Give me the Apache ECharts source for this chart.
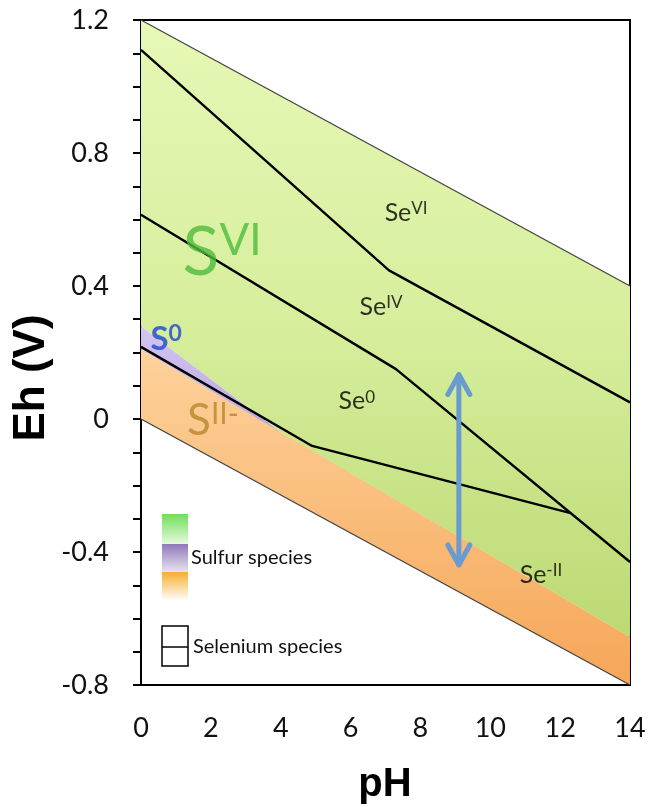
<!DOCTYPE html>
<html><head><meta charset="utf-8">
<script src="https://cdn.jsdelivr.net/npm/echarts@6/dist/echarts.min.js"></script>
<style>html,body{margin:0;padding:0;background:#fff}#c{width:650px;height:807px}</style>
</head><body><div id="c"></div>
<script>
// ---- data ----
const xTickLabels = ['0','2','4','6','8','10','12','14'];
const yTickLabels = ['-0.8','-0.4','0','0.4','0.8','1.2'];
const waterUpper = [[0,1.2],[14,0.4]];
const waterLower = [[0,0],[14,-0.8]];
const sVIRegion  = [[0,1.2],[14,0.4],[14,-0.656],[4,-0.04],[0,0.28]];
const s0Region   = [[0,0.28],[4,-0.04],[0,0.21]];
const sIIRegion  = [[0,0.21],[4,-0.038],[14,-0.656],[14,-0.8],[0,0]];
const seVI_IV = [[0,1.11],[7.1,0.447],[14,0.05]];
const seIV_0  = [[0,0.614],[7.3,0.15],[14,-0.43]];
const se0_II  = [[0,0.217],[4.9,-0.081],[12.3,-0.283]];
const arrowLine = [[9.1,0.14],[9.1,-0.445]];
const speciesNames = ['S|VI','S|0','S|II-','Se|VI','Se|IV','Se|0','Se|-II'];
const speciesAt = [[2.32,0.50],[0.72,0.241],[2.06,-0.006],[7.59,0.62],[6.87,0.337],[6.18,0.054],[11.45,-0.469]];

// ---- chart ----
const chart = echarts.init(document.getElementById('c'));
const G = echarts.graphic.LinearGradient;
function poly(points, fill, z){
  return {type:'custom', silent:true, z:z, clip:true, data:[0],
    renderItem:(p, api)=>({type:'polygon', shape:{points:points.map(q=>api.coord(q))}, style:{fill:fill}})};
}
function seLine(d){
  return {type:'line', data:d, symbol:'none', silent:true, z:5, lineStyle:{color:'#000', width:2.4}};
}
const styles = {
  'S|VI':  {s:{fontSize:68, color:'#4cbb3c', fontFamily:'Lato'}, sup:{fontSize:44, color:'#4cbb3c', fontFamily:'Lato'}},
  'S|0':   {s:{fontSize:33, color:'#1b45d8', fontFamily:'Lato', fontWeight:'bold'}, sup:{fontSize:23, color:'#1b45d8', fontFamily:'Lato', fontWeight:'bold'}},
  'S|II-': {s:{fontSize:44, color:'#b8862c', fontFamily:'Lato'}, sup:{fontSize:30, color:'#b8862c', fontFamily:'Lato'}},
  'Se':    {s:{fontSize:25, color:'#000', fontFamily:'Lato'}, sup:{fontSize:17, color:'#000', fontFamily:'Lato'}}
};
const labelData = speciesNames.map((n,i)=>{
  const [base, sup] = n.split('|');
  const st = styles[n] || styles['Se'];
  return {value: speciesAt[i], label:{show:true, position:'inside',
    formatter:'{s|'+base+'}{sup|'+sup+'}',
    rich:{s:Object.assign({verticalAlign:'bottom', lineHeight:st.s.fontSize}, st.s),
          sup:Object.assign({verticalAlign:'top', lineHeight:st.s.fontSize}, st.sup)}}};
});

const option = {
  animation:false,
  grid:{left:141, right:20, top:20, bottom:122, show:true, borderColor:'#000', borderWidth:2, backgroundColor:'transparent'},
  xAxis:{type:'value', min:0, max:14, interval:1,
    axisLine:{lineStyle:{color:'#000', width:2}},
    axisTick:{length:8, lineStyle:{color:'#000', width:2}},
    splitLine:{show:false},
    axisLabel:{margin:30, fontSize:27, fontFamily:'Lato', color:'#111',
      formatter:v=> (Math.round(v)%2===0 ? xTickLabels[Math.round(v)/2] : '')}},
  yAxis:{type:'value', min:-0.8, max:1.2, interval:0.1,
    axisLine:{lineStyle:{color:'#000', width:2}},
    axisTick:{length:8, lineStyle:{color:'#000', width:2}},
    splitLine:{show:false},
    axisLabel:{margin:32, fontSize:27, fontFamily:'Lato', color:'#111',
      formatter:v=>{const k=(v+0.8)/0.4; const r=Math.round(k); return Math.abs(k-r)<1e-6 ? yTickLabels[r] : '';}}},
  graphic:[
    {type:'text', x:32, y:378, rotation:Math.PI/2, style:{text:'Eh (V)', font:'bold 44px "Liberation Sans"', fill:'#000', textAlign:'center', textVerticalAlign:'middle'}},
    {type:'text', x:385, y:785, style:{text:'pH', font:'bold 40px "Liberation Sans"', fill:'#000', textAlign:'center', textVerticalAlign:'middle'}},
    {type:'rect', shape:{x:162, y:514, width:26, height:30}, style:{fill:new G(0,0,0,1,[{offset:0,color:'#6de05a'},{offset:1,color:'#e8f9dc'}])}},
    {type:'rect', shape:{x:162, y:544, width:26, height:28}, style:{fill:new G(0,0,0,1,[{offset:0,color:'#8f79b9'},{offset:1,color:'#e8e3f0'}])}},
    {type:'rect', shape:{x:162, y:572, width:26, height:29}, style:{fill:new G(0,0,0,1,[{offset:0,color:'#f7ae2e'},{offset:1,color:'#ffffff'}])}},
    {type:'text', x:191, y:558, style:{text:'Sulfur species', font:'20px Lato', fill:'#111', textVerticalAlign:'middle'}},
    {type:'rect', shape:{x:162, y:626, width:26, height:40}, style:{fill:'none', stroke:'#000', lineWidth:1.5}},
    {type:'line', shape:{x1:162, y1:647, x2:188, y2:647}, style:{stroke:'#000', lineWidth:1.5}},
    {type:'text', x:193, y:647, style:{text:'Selenium species', font:'20px Lato', fill:'#111', textVerticalAlign:'middle'}}
  ],
  series:[
    poly(sIIRegion, new G(0,0,0,1,[{offset:0,color:'#fdd29c'},{offset:1,color:'#f6a658'}]), 1),
    poly(s0Region, new G(0,0,0,1,[{offset:0,color:'#d4c6f2'},{offset:1,color:'#b9a6e2'}]), 1),
    poly(sVIRegion, new G(0,0,0,1,[{offset:0,color:'#e6f8b6'},{offset:0.5,color:'#d6ee9c'},{offset:1,color:'#bcd974'}]), 2),
    {type:'line', data:waterUpper, symbol:'none', silent:true, z:3, lineStyle:{color:'#444', width:1.3}},
    {type:'line', data:waterLower, symbol:'none', silent:true, z:3, lineStyle:{color:'#444', width:1.3}},
    seLine(seVI_IV), seLine(seIV_0), seLine(se0_II),
    {type:'custom', silent:true, z:6, data:[0],
      renderItem:(p, api)=>{
        const a = api.coord(arrowLine[0]), b = api.coord(arrowLine[1]);
        const st = {stroke:'#6a9bd0', lineWidth:5, fill:'none', lineCap:'round', lineJoin:'round'};
        return {type:'group', children:[
          {type:'line', shape:{x1:a[0], y1:a[1]+3, x2:b[0], y2:b[1]-3}, style:st},
          {type:'polyline', shape:{points:[[a[0]-11,a[1]+22],[a[0],a[1]+2],[a[0]+11,a[1]+22]]}, style:st},
          {type:'polyline', shape:{points:[[b[0]-11,b[1]-22],[b[0],b[1]-2],[b[0]+11,b[1]-22]]}, style:st}
        ]};
      }},
    {type:'scatter', symbolSize:0, silent:true, z:7, data:labelData}
  ]
};
chart.setOption(option);
</script></body></html>
